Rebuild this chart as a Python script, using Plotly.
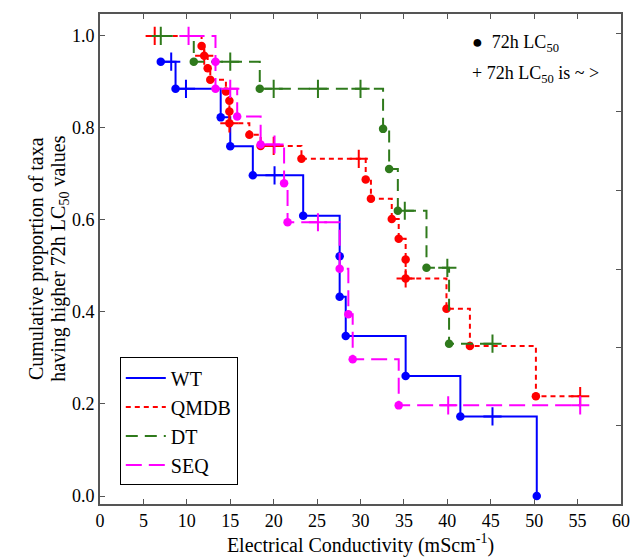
import plotly.graph_objects as go

# ---------------- data ----------------
# kind: "e" = 72h LC50 (dot), "c" = 72h LC50 is ~ > (plus / censored)
wt_x = [7.0, 8.2, 8.7, 9.9, 13.9, 15.0, 17.6, 20.1, 23.4, 27.6, 27.6, 28.3, 35.2, 41.5, 45.2, 50.3]
wt_y = [0.944, 0.944, 0.885, 0.885, 0.823, 0.760, 0.697, 0.697, 0.609, 0.521, 0.433, 0.348, 0.261, 0.173, 0.173, 0.0]
wt_kind = ["e", "c", "e", "c", "e", "e", "e", "c", "e", "e", "e", "e", "e", "e", "c", "e"]

qmdb_x = [6.3, 11.7, 12.0, 12.0, 12.4, 12.7, 14.5, 14.9, 14.9, 14.9, 14.9, 17.2, 18.5, 20.0, 23.2, 29.8,
          30.6, 31.2, 33.6, 34.4, 35.2, 35.2, 35.2, 39.9, 42.6, 50.2, 55.3]
qmdb_y = [1.0, 0.978, 0.957, 0.957, 0.930, 0.905, 0.879, 0.859, 0.836, 0.810, 0.810, 0.785, 0.761, 0.761, 0.733, 0.733,
          0.688, 0.646, 0.602, 0.559, 0.514, 0.473, 0.473, 0.407, 0.326, 0.217, 0.217]
qmdb_kind = ["c", "e", "e", "c", "e", "e", "e", "e", "e", "e", "c", "e", "e", "c", "e", "c",
             "e", "e", "e", "e", "e", "e", "c", "e", "e", "e", "c"]

dt_x = [7.0, 10.8, 15.0, 18.4, 20.0, 25.1, 30.0, 32.6, 33.3, 34.3, 35.1, 37.6, 40.0, 40.2, 45.2]
dt_y = [1.0, 0.944, 0.944, 0.885, 0.885, 0.885, 0.885, 0.798, 0.711, 0.620, 0.620, 0.496, 0.496, 0.331, 0.331]
dt_kind = ["c", "e", "c", "e", "c", "c", "c", "e", "e", "e", "c", "e", "c", "e", "c"]

seq_x = [10.2, 13.3, 13.3, 15.0, 15.8, 18.5, 20.1, 21.2, 21.6, 25.1, 27.6, 28.6, 29.1, 34.4, 40.1, 55.3]
seq_y = [1.0, 0.944, 0.885, 0.885, 0.825, 0.764, 0.764, 0.680, 0.595, 0.595, 0.494, 0.395, 0.297, 0.197, 0.197, 0.197]
seq_kind = ["c", "e", "e", "c", "e", "e", "c", "e", "e", "c", "e", "e", "e", "e", "c", "c"]

series_names = ["WT", "QMDB", "DT", "SEQ"]
series_colors = ["#0000FF", "#FF0000", "#2F7A1C", "#FF00FF"]
series_dash = ["solid", "5px,4px", "12px,7px", "16px,7px"]

x_ticks = [0, 5, 10, 15, 20, 25, 30, 35, 40, 45, 50, 55, 60]
y_ticks = [0.0, 0.2, 0.4, 0.6, 0.8, 1.0]
y_tick_labels = ["0.0", "0.2", "0.4", "0.6", "0.8", "1.0"]
right_ticks = [0.154, 0.322, 0.493, 0.665, 0.836, 1.006]

y_title_lines = ["Cumulative proportion of taxa", "having higher 72h LC<sub>50</sub> values"]
x_title = "Electrical Conductivity (mScm<sup>-1</sup>)"

FONT = "Liberation Serif"

series = [
    (wt_x, wt_y, wt_kind),
    (qmdb_x, qmdb_y, qmdb_kind),
    (dt_x, dt_y, dt_kind),
    (seq_x, seq_y, seq_kind),
]

fig = go.Figure()
for (xs, ys, ks), name, col, dash in zip(series, series_names, series_colors, series_dash):
    fig.add_trace(go.Scatter(
        x=xs, y=ys, mode="lines", name=name, line_shape="hv",
        line=dict(color=col, width=2, dash=dash), showlegend=True,
    ))
    ex = [x for x, k in zip(xs, ks) if k == "e"]
    ey = [y for y, k in zip(ys, ks) if k == "e"]
    cx = [x for x, k in zip(xs, ks) if k == "c"]
    cy = [y for y, k in zip(ys, ks) if k == "c"]
    fig.add_trace(go.Scatter(
        x=ex, y=ey, mode="markers", showlegend=False, hoverinfo="x+y",
        marker=dict(symbol="circle", size=8.5, color=col),
    ))
    fig.add_trace(go.Scatter(
        x=cx, y=cy, mode="markers", showlegend=False, hoverinfo="x+y",
        marker=dict(symbol="cross-thin", size=13, color=col, line=dict(color=col, width=2)),
    ))

# invisible trace to carry the right-hand axis ticks
fig.add_trace(go.Scatter(x=[0], y=[0], yaxis="y2", mode="markers",
                         marker=dict(opacity=0), showlegend=False, hoverinfo="skip"))

Y_RANGE = [-0.0174, 1.0477]
fig.update_layout(
    width=641, height=560,
    margin=dict(l=100, r=11, t=14, b=55),
    plot_bgcolor="white", paper_bgcolor="white",
    font=dict(family=FONT, size=18, color="black"),
    xaxis=dict(
        range=[0, 60], tickvals=x_ticks, ticks="inside", ticklen=5, tickwidth=1.2,
        tickcolor="#555", showline=True, linecolor="#555", linewidth=1.6, mirror="ticks",
        showgrid=False, zeroline=False,
        title=dict(text=x_title, font=dict(family=FONT, size=20, color="black"), standoff=4),
        tickfont=dict(family=FONT, size=18, color="black"),
    ),
    yaxis=dict(
        range=Y_RANGE, tickvals=y_ticks, ticktext=y_tick_labels, ticks="inside", ticklen=5,
        tickwidth=1.2, tickcolor="#555", showline=True, linecolor="#555", linewidth=1.6,
        mirror=True, showgrid=False, zeroline=False,
        tickfont=dict(family=FONT, size=18, color="black"),
    ),
    yaxis2=dict(
        range=Y_RANGE, overlaying="y", side="right", tickvals=right_ticks, ticks="inside",
        ticklen=5, tickwidth=1.2, tickcolor="#555", showticklabels=False, showline=False,
        showgrid=False, zeroline=False,
    ),
    legend=dict(
        x=0.038, y=0.299, xanchor="left", yanchor="top",
        bordercolor="black", borderwidth=1, bgcolor="white",
        font=dict(family=FONT, size=20, color="black"), itemwidth=40, tracegroupgap=2,
    ),
    showlegend=True,
)

# y-axis title, two lines placed individually
for line_text, px in zip(y_title_lines, [35, 58]):
    fig.add_annotation(xref="paper", yref="paper", x=(px - 100) / 530, y=0.5,
                       xanchor="center", yanchor="middle", textangle=-90, showarrow=False,
                       text=line_text, font=dict(family=FONT, size=20, color="black"))

fig.add_annotation(xref="paper", yref="paper", x=(476 - 100) / 530, y=(505 - 44) / 491,
                   xanchor="left", yanchor="middle", showarrow=False,
                   text="●  72h LC<sub>50</sub>", font=dict(family=FONT, size=18, color="black"))
fig.add_annotation(xref="paper", yref="paper", x=(476 - 100) / 530, y=(505 - 75) / 491,
                   xanchor="left", yanchor="middle", showarrow=False,
                   text="+ 72h LC<sub>50</sub> is ~ >", font=dict(family=FONT, size=18, color="black"))

fig.write_html("out.html", config={"displayModeBar": False},
               post_script="document.body.style.margin='0';")
